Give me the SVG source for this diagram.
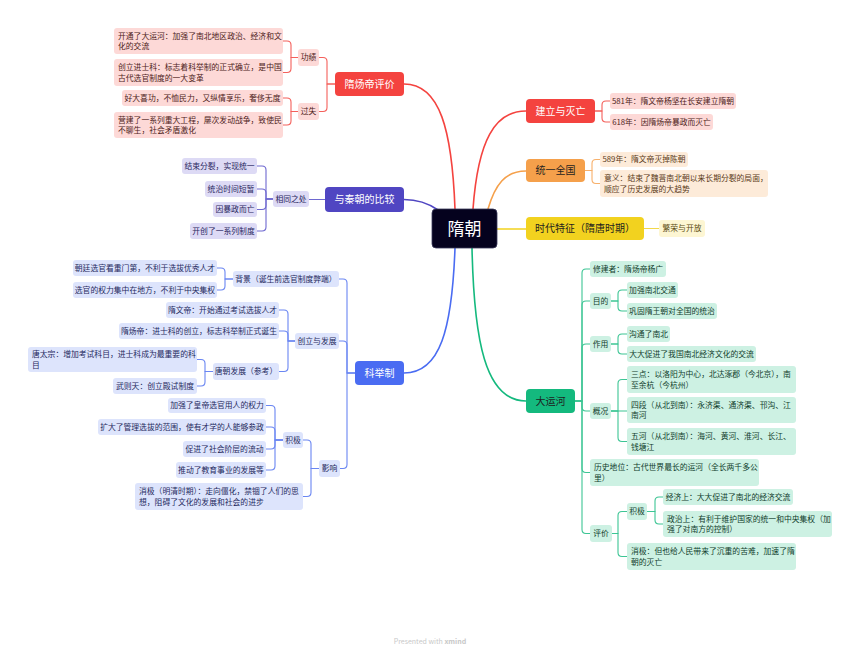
<svg xmlns="http://www.w3.org/2000/svg" width="860" height="656" viewBox="0 0 860 656">
<style>
text{font-family:"Noto Sans CJK SC","Noto Sans",sans-serif;}
.lf{font-size:7.8px;}
.c{text-anchor:middle;}
.mn{font-size:10px;text-anchor:middle;}
.w{fill:#ffffff;}
.d{fill:#1e1e1e;}
.cr{fill:#fdd9d7;} .tr{fill:#4d1c1a;}
.co{fill:#fdebd9;} .to{fill:#5a3a18;}
.cy{fill:#fdf6d3;} .ty{fill:#5a4a10;}
.cp{fill:#dddaf5;} .tp{fill:#29265e;}
.cb{fill:#dde4fc;} .tb{fill:#1f2a5e;}
.cg{fill:#cdf1e3;} .tg{fill:#103d2c;}
.ln{fill:none;stroke-width:1.1;stroke-linecap:round;stroke-linejoin:round;}
.mc{fill:none;stroke-width:1.6;stroke-linecap:round;}
</style>
<rect width="860" height="656" fill="#ffffff"/>
<g id="connectors">
<!-- main curves -->
<path class="mc" stroke="#f4433f" d="M404,84 C440,84 452,130 455,209"/>
<path class="mc" stroke="#f4433f" d="M473,209 C478,140 495,111 526,111"/>
<path class="mc" stroke="#f5a04b" d="M488,209 C495,185 505,171 526,171"/>
<path class="mc" stroke="#f2d21f" d="M497,229 H526"/>
<path class="mc" stroke="#5046c2" d="M404,199.5 C418,199.5 428,203 438,210"/>
<path class="mc" stroke="#4a6cf2" d="M455,248 C452,330 440,373 404,373"/>
<path class="mc" stroke="#14b97e" d="M472,248 C474,340 485,401 526,401"/>
<!-- red left -->
<g class="ln" stroke="#f4605b">
<path d="M335,84 H327 V61.5 Q327,57.5 323,57.5 H319"/>
<path d="M335,84 H327 V107.5 Q327,111.5 323,111.5 H319"/>
<path d="M298,57.5 H291 V45 Q291,41 287,41 H283"/>
<path d="M298,57.5 H291 V68.5 Q291,72.5 287,72.5 H283"/>
<path d="M298,111.5 H291 V102 Q291,98 287,98 H283"/>
<path d="M298,111.5 H291 V121 Q291,125 287,125 H283"/>
</g>
<!-- red right -->
<g class="ln" stroke="#f4605b">
<path d="M595,111 H602 V105 Q602,101 606,101 H610"/>
<path d="M595,111 H602 V118 Q602,122 606,122 H610"/>
</g>
<!-- orange -->
<g class="ln" stroke="#f7b06b">
<path d="M585,170.5 H592 V163.5 Q592,159.5 596,159.5 H600"/>
<path d="M585,170.5 H592 V179.5 Q592,183.5 596,183.5 H600"/>
</g>
<!-- yellow -->
<path class="ln" stroke="#f2d84a" d="M644,228.5 H659"/>
<!-- purple -->
<g class="ln" stroke="#6e68d0">
<path d="M325,199.5 H309"/>
<path d="M273,199 H266 V170 Q266,166 262,166 H257"/>
<path d="M273,199 H266 V193 Q266,189 262,189 H257"/>
<path d="M273,199 H266 V205.5 Q266,209.5 262,209.5 H257"/>
<path d="M273,199 H266 V227 Q266,231 262,231 H257"/>
</g>
<!-- blue -->
<g class="ln" stroke="#6a86f2">
<path d="M355,373 H347 V283 Q347,279 343,279 H339"/>
<path d="M355,373 H347 V345 Q347,341 343,341 H339"/>
<path d="M355,373 H347 V464.5 Q347,468.5 343,468.5 H340"/>
<path d="M233,279 H225 V272 Q225,268 221,268 H217"/>
<path d="M233,279 H225 V286 Q225,290 221,290 H217"/>
<path d="M295,341 H288 V314 Q288,310 284,310 H279"/>
<path d="M295,341 H288 V335 Q288,331 284,331 H279"/>
<path d="M295,341 H288 V367.5 Q288,371.5 284,371.5 H279"/>
<path d="M213,371.5 H205 V363.5 Q205,359.5 201,359.5 H197"/>
<path d="M213,371.5 H205 V382 Q205,386 201,386 H197"/>
<path d="M319,468.5 H311 V444 Q311,440 307,440 H303"/>
<path d="M319,468.5 H311 V492.5 Q311,496.5 307,496.5 H303"/>
<path d="M283,440 H275 V409.5 Q275,405.5 271,405.5 H266"/>
<path d="M283,440 H275 V431 Q275,427 271,427 H266"/>
<path d="M283,440 H275 V445 Q275,449 271,449 H266"/>
<path d="M283,440 H275 V466 Q275,470 271,470 H266"/>
</g>
<!-- green -->
<g class="ln" stroke="#3cc594">
<path d="M575,401 H582 V273 Q582,269 586,269 H590"/>
<path d="M575,401 H582 V305 Q582,301 586,301 H590"/>
<path d="M575,401 H582 V348 Q582,344 586,344 H590"/>
<path d="M575,401 H582 V407 Q582,411 586,411 H590"/>
<path d="M575,401 H582 V468.5 Q582,472.5 586,472.5 H590"/>
<path d="M575,401 H582 V529.5 Q582,533.5 586,533.5 H590"/>
<path d="M611,301 H618 V294 Q618,290 622,290 H627"/>
<path d="M611,301 H618 V307 Q618,311 622,311 H627"/>
<path d="M611,344 H618 V338 Q618,334 622,334 H627"/>
<path d="M611,344 H618 V350 Q618,354 622,354 H627"/>
<path d="M611,411 H618 V383.5 Q618,379.5 622,379.5 H627"/>
<path d="M611,411 H627"/>
<path d="M611,411 H618 V437.5 Q618,441.5 622,441.5 H627"/>
<path d="M612,533.5 H618 V515.5 Q618,511.5 622,511.5 H627"/>
<path d="M612,533.5 H618 V552.5 Q618,556.5 622,556.5 H627"/>
<path d="M647,511.5 H655 V501 Q655,497 659,497 H663"/>
<path d="M647,511.5 H655 V520 Q655,524 659,524 H663"/>
</g>
</g>

<g id="center">
<rect x="432" y="209" width="65" height="39" rx="4" fill="#05021e" stroke="#3a3a5a" stroke-width="0.8"/>
<text x="464.5" y="234.5" font-size="17" text-anchor="middle" class="w">隋朝</text>
</g>

<!-- red left branch -->
<g id="n-yangdi"><rect x="335" y="72" width="69" height="24" rx="4" fill="#f4433f"/><text class="mn w" x="369.5" y="87.6">隋炀帝评价</text></g>
<g id="n-gongji"><rect class="cr" x="298" y="49" width="21" height="17" rx="3"/><text class="lf c tr" x="308.5" y="60.3">功绩</text></g>
<g id="n-guoshi"><rect class="cr" x="298" y="103" width="21" height="17" rx="3"/><text class="lf c tr" x="308.5" y="114.3">过失</text></g>
<g id="n-r1"><rect class="cr" x="114" y="28" width="169" height="26" rx="3"/><text class="lf tr" x="118" y="38.8">开通了大运河：加强了南北地区政治、经济和文<tspan x="118" y="49.2">化的交流</tspan></text></g>
<g id="n-r2"><rect class="cr" x="114" y="59" width="169" height="27" rx="3"/><text class="lf tr" x="118" y="70.3">创立进士科：标志着科举制的正式确立，是中国<tspan x="118" y="80.7">古代选官制度的一大变革</tspan></text></g>
<g id="n-r3"><rect class="cr" x="122" y="90" width="161" height="16" rx="3"/><text class="lf c tr" x="202.5" y="100.8">好大喜功，不恤民力，又纵情享乐，奢侈无度</text></g>
<g id="n-r4"><rect class="cr" x="114" y="112" width="169" height="26" rx="3"/><text class="lf tr" x="118" y="122.8">营建了一系列重大工程，屡次发动战争，致使民<tspan x="118" y="133.2">不聊生，社会矛盾激化</tspan></text></g>

<!-- red right -->
<g id="n-jianli"><rect x="526" y="99" width="69" height="24" rx="4" fill="#f4433f"/><text class="mn w" x="560.5" y="114.6">建立与灭亡</text></g>
<g id="n-e1"><rect class="cr" x="610" y="93" width="126" height="16" rx="3"/><text class="lf c tr" x="673" y="103.8">581年：隋文帝杨坚在长安建立隋朝</text></g>
<g id="n-e2"><rect class="cr" x="610" y="114" width="103" height="16" rx="3"/><text class="lf c tr" x="661.5" y="124.8">618年：因隋炀帝暴政而灭亡</text></g>

<!-- orange -->
<g id="n-tongyi"><rect x="526" y="159" width="59" height="23" rx="4" fill="#f5a04b"/><text class="mn d" x="555.5" y="174.1">统一全国</text></g>
<g id="n-o1"><rect class="co" x="600" y="152" width="88" height="15" rx="3"/><text class="lf c to" x="644" y="162.3">589年：隋文帝灭掉陈朝</text></g>
<g id="n-o2"><rect class="co" x="600" y="170" width="168" height="27" rx="3"/><text class="lf to" x="604" y="181.3">意义：结束了魏晋南北朝以来长期分裂的局面，<tspan x="604" y="191.7">顺应了历史发展的大趋势</tspan></text></g>

<!-- yellow -->
<g id="n-tezheng"><rect x="526" y="217" width="118" height="23" rx="4" fill="#f2d21f"/><text class="mn d" x="585" y="232.1">时代特征（隋唐时期）</text></g>
<g id="n-y1"><rect class="cy" x="659" y="220" width="46" height="17" rx="3"/><text class="lf c ty" x="682" y="231.3">繁荣与开放</text></g>

<!-- purple -->
<g id="n-bijiao"><rect x="325" y="187" width="79" height="25" rx="4" fill="#5046c2"/><text class="mn w" x="364.5" y="203.1">与秦朝的比较</text></g>
<g id="n-xiangtong"><rect class="cp" x="273" y="191" width="36" height="16" rx="3"/><text class="lf c tp" x="291" y="201.8">相同之处</text></g>
<g id="n-p1"><rect class="cp" x="182" y="158" width="75" height="16" rx="3"/><text class="lf c tp" x="219.5" y="168.8">结束分裂，实现统一</text></g>
<g id="n-p2"><rect class="cp" x="205" y="181" width="52" height="16" rx="3"/><text class="lf c tp" x="231" y="191.8">统治时间短暂</text></g>
<g id="n-p3"><rect class="cp" x="213" y="202" width="44" height="15" rx="3"/><text class="lf c tp" x="235" y="212.3">因暴政而亡</text></g>
<g id="n-p4"><rect class="cp" x="190" y="223" width="67" height="16" rx="3"/><text class="lf c tp" x="223.5" y="233.8">开创了一系列制度</text></g>

<!-- blue -->
<g id="n-keju"><rect x="355" y="361" width="49" height="24" rx="4" fill="#4a6cf2"/><text class="mn w" x="379.5" y="376.6">科举制</text></g>
<g id="n-beijing"><rect class="cb" x="233" y="271" width="106" height="16" rx="3"/><text class="lf c tb" x="286" y="281.8">背景（诞生前选官制度弊端）</text></g>
<g id="n-b1"><rect class="cb" x="73" y="260" width="144" height="16" rx="3"/><text class="lf c tb" x="145" y="270.8">朝廷选官看重门第，不利于选拔优秀人才</text></g>
<g id="n-b2"><rect class="cb" x="73" y="282" width="144" height="16" rx="3"/><text class="lf c tb" x="145" y="292.8">选官的权力集中在地方，不利于中央集权</text></g>
<g id="n-chuangli"><rect class="cb" x="295" y="333" width="44" height="16" rx="3"/><text class="lf c tb" x="317" y="343.8">创立与发展</text></g>
<g id="n-b3"><rect class="cb" x="166" y="302" width="113" height="16" rx="3"/><text class="lf c tb" x="222.5" y="312.8">隋文帝：开始通过考试选拔人才</text></g>
<g id="n-b4"><rect class="cb" x="119" y="323" width="160" height="16" rx="3"/><text class="lf c tb" x="199" y="333.8">隋炀帝：进士科的创立，标志科举制正式诞生</text></g>
<g id="n-tangchao"><rect class="cb" x="213" y="363" width="66" height="17" rx="3"/><text class="lf c tb" x="246" y="374.3">唐朝发展（参考）</text></g>
<g id="n-b5"><rect class="cb" x="28" y="347" width="169" height="25" rx="3"/><text class="lf tb" x="32" y="357.3">唐太宗：增加考试科目，进士科成为最重要的科<tspan x="32" y="367.7">目</tspan></text></g>
<g id="n-b6"><rect class="cb" x="113" y="378" width="84" height="16" rx="3"/><text class="lf c tb" x="155" y="388.8">武则天：创立殿试制度</text></g>
<g id="n-yingxiang"><rect class="cb" x="319" y="460" width="21" height="17" rx="3"/><text class="lf c tb" x="329.5" y="471.3">影响</text></g>
<g id="n-jiji-l"><rect class="cb" x="283" y="432" width="20" height="16" rx="3"/><text class="lf c tb" x="293" y="442.8">积极</text></g>
<g id="n-b7"><rect class="cb" x="168" y="398" width="98" height="15" rx="3"/><text class="lf c tb" x="217" y="408.3">加强了皇帝选官用人的权力</text></g>
<g id="n-b8"><rect class="cb" x="98" y="419" width="168" height="16" rx="3"/><text class="lf c tb" x="182" y="429.8">扩大了管理选拔的范围，使有才学的人能够参政</text></g>
<g id="n-b9"><rect class="cb" x="183" y="441" width="83" height="16" rx="3"/><text class="lf c tb" x="224.5" y="451.8">促进了社会阶层的流动</text></g>
<g id="n-b10"><rect class="cb" x="176" y="462" width="90" height="16" rx="3"/><text class="lf c tb" x="221" y="472.8">推动了教育事业的发展等</text></g>
<g id="n-b11"><rect class="cb" x="135" y="483" width="168" height="27" rx="3"/><text class="lf tb" x="139" y="494.3">消极（明清时期）：走向僵化，禁锢了人们的思<tspan x="139" y="504.7">想，阻碍了文化的发展和社会的进步</tspan></text></g>

<!-- green -->
<g id="n-yunhe"><rect x="526" y="389" width="49" height="24" rx="4" fill="#14b97e"/><text class="mn d" x="550.5" y="404.6">大运河</text></g>
<g id="n-g1"><rect class="cg" x="590" y="261" width="76" height="16" rx="3"/><text class="lf c tg" x="628" y="271.8">修建者：隋炀帝杨广</text></g>
<g id="n-mudi"><rect class="cg" x="590" y="293" width="21" height="16" rx="3"/><text class="lf c tg" x="600.5" y="303.8">目的</text></g>
<g id="n-g2"><rect class="cg" x="627" y="282" width="51" height="16" rx="3"/><text class="lf c tg" x="652.5" y="292.8">加强南北交通</text></g>
<g id="n-g3"><rect class="cg" x="627" y="303" width="90" height="16" rx="3"/><text class="lf c tg" x="672" y="313.8">巩固隋王朝对全国的统治</text></g>
<g id="n-zuoyong"><rect class="cg" x="590" y="336" width="21" height="16" rx="3"/><text class="lf c tg" x="600.5" y="346.8">作用</text></g>
<g id="n-g4"><rect class="cg" x="627" y="326" width="43" height="16" rx="3"/><text class="lf c tg" x="648.5" y="336.8">沟通了南北</text></g>
<g id="n-g5"><rect class="cg" x="627" y="346" width="129" height="16" rx="3"/><text class="lf c tg" x="691.5" y="356.8">大大促进了我国南北经济文化的交流</text></g>
<g id="n-gaikuang"><rect class="cg" x="590" y="403" width="21" height="16" rx="3"/><text class="lf c tg" x="600.5" y="413.8">概况</text></g>
<g id="n-g6"><rect class="cg" x="627" y="366" width="169" height="27" rx="3"/><text class="lf tg" x="631" y="377.3">三点：以洛阳为中心，北达涿郡（今北京），南<tspan x="631" y="387.7">至余杭（今杭州）</tspan></text></g>
<g id="n-g7"><rect class="cg" x="627" y="397" width="169" height="26" rx="3"/><text class="lf tg" x="631" y="407.8">四段（从北到南）：永济渠、通济渠、邗沟、江<tspan x="631" y="418.2">南河</tspan></text></g>
<g id="n-g8"><rect class="cg" x="627" y="428" width="169" height="27" rx="3"/><text class="lf tg" x="631" y="439.3">五河（从北到南）：海河、黄河、淮河、长江、<tspan x="631" y="449.7">钱塘江</tspan></text></g>
<g id="n-g9"><rect class="cg" x="590" y="459" width="169" height="27" rx="3"/><text class="lf tg" x="594" y="470.3">历史地位：古代世界最长的运河（全长两千多公<tspan x="594" y="480.7">里）</tspan></text></g>
<g id="n-pingjia"><rect class="cg" x="590" y="525" width="22" height="17" rx="3"/><text class="lf c tg" x="601" y="536.3">评价</text></g>
<g id="n-jiji-r"><rect class="cg" x="627" y="503" width="20" height="17" rx="3"/><text class="lf c tg" x="637" y="514.3">积极</text></g>
<g id="n-g10"><rect class="cg" x="663" y="489" width="130" height="16" rx="3"/><text class="lf c tg" x="728" y="499.8">经济上：大大促进了南北的经济交流</text></g>
<g id="n-g11"><rect class="cg" x="663" y="511" width="169" height="26" rx="3"/><text class="lf tg" x="667" y="521.8">政治上：有利于维护国家的统一和中央集权（加<tspan x="667" y="532.2">强了对南方的控制）</tspan></text></g>
<g id="n-g12"><rect class="cg" x="627" y="543" width="169" height="27" rx="3"/><text class="lf tg" x="631" y="554.3">消极：但也给人民带来了沉重的苦难，加速了隋<tspan x="631" y="564.7">朝的灭亡</tspan></text></g>

<text x="430" y="644" font-size="7" text-anchor="middle" fill="#c8c8c8" font-family="Liberation Sans, sans-serif">Presented with <tspan font-weight="bold">xmind</tspan></text>
</svg>
